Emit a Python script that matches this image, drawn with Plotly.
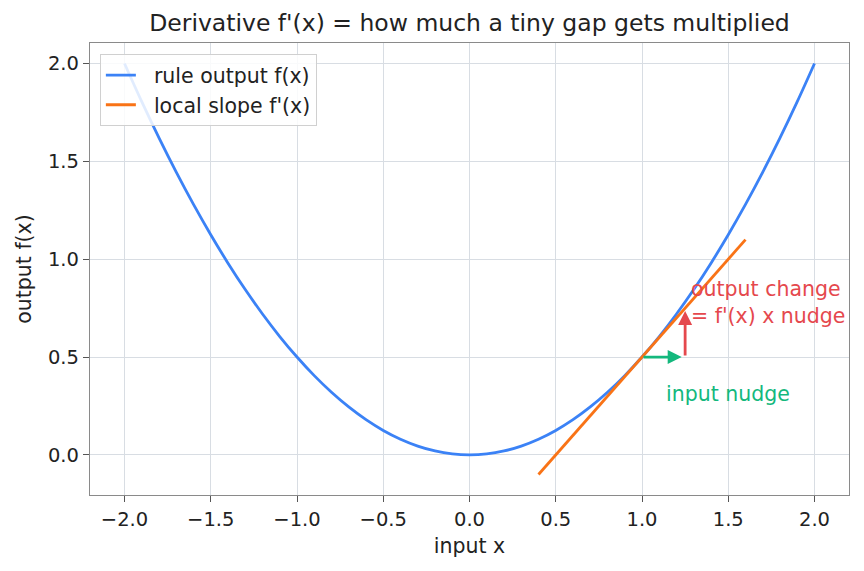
import plotly.graph_objects as go

# Sampled curve f(x) = x^2 / 2 (values read as listed points)
curve_x = [-2.0, -1.9, -1.8, -1.7, -1.6, -1.5, -1.4, -1.3, -1.2, -1.1, -1.0,
           -0.9, -0.8, -0.7, -0.6, -0.5, -0.4, -0.3, -0.2, -0.1, 0.0,
           0.1, 0.2, 0.3, 0.4, 0.5, 0.6, 0.7, 0.8, 0.9, 1.0,
           1.1, 1.2, 1.3, 1.4, 1.5, 1.6, 1.7, 1.8, 1.9, 2.0]
curve_y = [2.0, 1.805, 1.62, 1.445, 1.28, 1.125, 0.98, 0.845, 0.72, 0.605, 0.5,
           0.405, 0.32, 0.245, 0.18, 0.125, 0.08, 0.045, 0.02, 0.005, 0.0,
           0.005, 0.02, 0.045, 0.08, 0.125, 0.18, 0.245, 0.32, 0.405, 0.5,
           0.605, 0.72, 0.845, 0.98, 1.125, 1.28, 1.445, 1.62, 1.805, 2.0]

# Tangent segment at x = 1
tangent_x = [0.4, 1.6]
tangent_y = [-0.1, 1.1]

# Nudge arrows
nudge_start = (1.0, 0.5)
nudge_end = (1.23, 0.5)
change_start = (1.25, 0.5)
change_end = (1.25, 0.735)

ticks_x = [-2.0, -1.5, -1.0, -0.5, 0.0, 0.5, 1.0, 1.5, 2.0]
ticks_y = [0.0, 0.5, 1.0, 1.5, 2.0]

BLUE = "#3b82f6"
ORANGE = "#f97316"
RED = "#e5484d"
GREEN = "#14b87d"
FONT = "DejaVu Sans"
TICK = 19.5
TXT = 20.5
PAD = "\u00a0" * 2

fig = go.Figure()
fig.add_trace(go.Scatter(x=curve_x, y=curve_y, mode="lines", name=PAD + "rule output f(x)",
                         line=dict(color=BLUE, width=2.8, shape="spline")))
fig.add_trace(go.Scatter(x=tangent_x, y=tangent_y, mode="lines", name=PAD + "local slope f'(x)",
                         line=dict(color=ORANGE, width=2.8)))

fig.add_annotation(x=nudge_end[0], y=nudge_end[1], ax=nudge_start[0], ay=nudge_start[1],
                   xref="x", yref="y", axref="x", ayref="y", text="", showarrow=True,
                   arrowhead=2, arrowsize=1.0, arrowwidth=2.8, arrowcolor=GREEN)
fig.add_annotation(x=change_end[0], y=change_end[1], ax=change_start[0], ay=change_start[1],
                   xref="x", yref="y", axref="x", ayref="y", text="", showarrow=True,
                   arrowhead=2, arrowsize=1.0, arrowwidth=2.8, arrowcolor=RED)
fig.add_annotation(x=1.27, y=0.78, xref="x", yref="y", text="output change<br>= f'(x) x nudge",
                   showarrow=False, xanchor="left", yanchor="middle", align="left",
                   font=dict(family=FONT, size=TXT, color=RED))
fig.add_annotation(x=1.125, y=0.31, xref="x", yref="y", text="input nudge",
                   showarrow=False, xanchor="left", yanchor="middle", align="left",
                   font=dict(family=FONT, size=TXT, color=GREEN))

axis_common = dict(showgrid=True, gridcolor="#d8dde3", gridwidth=1, zeroline=False,
                   showline=True, linecolor="#8a8a8a", linewidth=1.3, mirror=True,
                   ticks="outside", ticklen=6, tickcolor="#555",
                   tickfont=dict(family=FONT, size=TICK, color="#222"))

fig.update_layout(
    width=864, height=571,
    margin=dict(l=90, r=15, t=43, b=76),
    paper_bgcolor="white", plot_bgcolor="white",
    font=dict(family=FONT, color="#222"),
    title=dict(text="Derivative f'(x) = how much a tiny gap gets multiplied",
               x=0.5, xref="paper", xanchor="center", y=0.96, yref="container", yanchor="middle",
               font=dict(family=FONT, size=23.5, color="#222")),
    xaxis=dict(range=[-2.2, 2.2], tickvals=ticks_x, ticktext=[f"{v:.1f}".replace("-", "\u2212") for v in ticks_x],
               title=dict(text="input x", font=dict(family=FONT, size=TXT), standoff=9), **axis_common),
    yaxis=dict(range=[-0.205, 2.105], tickvals=ticks_y, ticktext=[f"{v:.1f}" for v in ticks_y],
               title=dict(text="output f(x)", font=dict(family=FONT, size=TXT), standoff=10), **axis_common),
    legend=dict(x=0.013, y=0.975, xanchor="left", yanchor="top",
                bgcolor="rgba(255,255,255,0.85)", bordercolor="#d0d0d0", borderwidth=1,
                font=dict(family=FONT, size=TXT, color="#222")),
    showlegend=True,
)

fig.write_html("out.html")
